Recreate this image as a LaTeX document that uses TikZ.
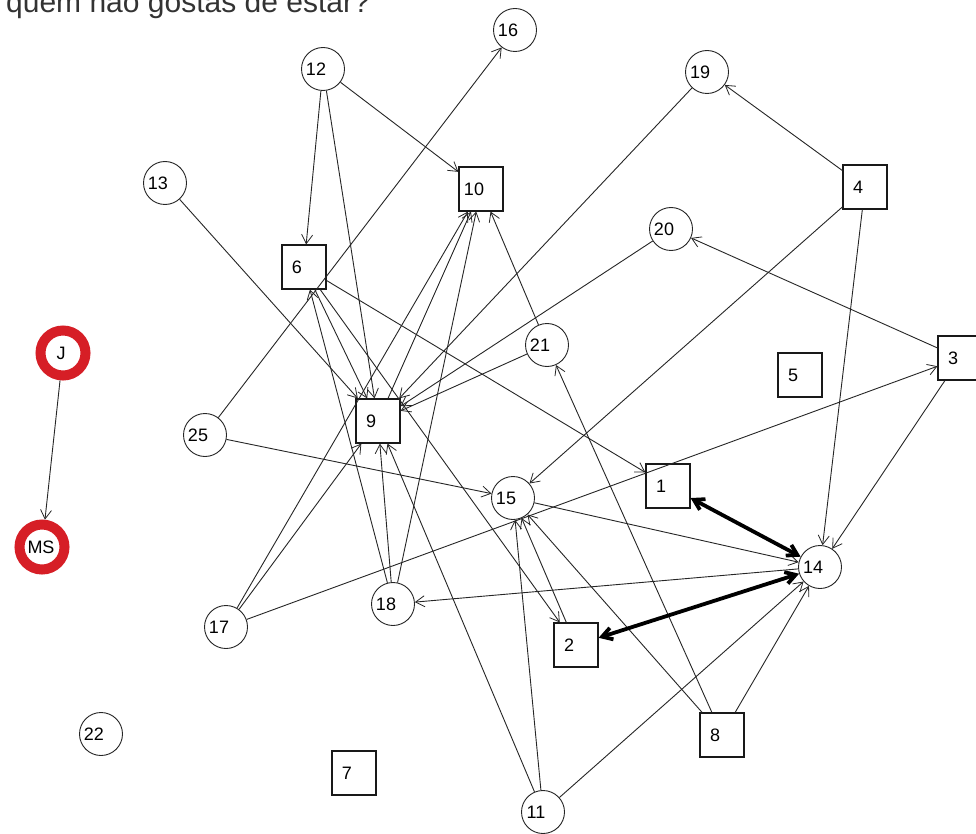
\documentclass[tikz,border=0pt]{standalone}
\usepackage{fontspec}
\setmainfont{Liberation Sans}
\usetikzlibrary{arrows.meta}
\definecolor{ringred}{RGB}{214,30,38}
\newcommand\lblfont{\fontsize{18}{18}\selectfont}
\newcommand\ttlfont{\fontsize{30}{30}\selectfont}
\tikzset{
  lbl/.style={font=\lblfont, inner sep=0pt, xshift=-7pt},
  lab/.style={label={[lbl]center:#1}},
  vcirc/.style={circle, draw=black!85, line width=0.9pt, minimum size=43pt, inner sep=0pt},
  vbox/.style={rectangle, draw=black!90, line width=1.2pt, minimum size=44pt, inner sep=0pt},
  redring/.style={circle, draw=ringred, line width=10pt, minimum size=45pt, inner sep=0pt},
  arr/.style={draw=black!85, line width=0.9pt, -{Straight Barb[length=9pt,width=11pt,line width=0.8pt]}},
  tarr/.style={draw=black, line width=3.8pt, {Straight Barb[length=10pt,width=12pt]}-{Straight Barb[length=10pt,width=12pt]}}
}
\begin{document}
\begin{tikzpicture}[x=1pt,y=-1pt]
\useasboundingbox (0,0) rectangle (976,834);
\fill[white] (0,0) rectangle (976,834);
\node[anchor=base west, font=\ttlfont, text=black!80, inner sep=0pt] (title) at (6,13) {quem não gostas de estar?};
% circles
\node[vcirc,lab=16] (n16) at (515,30) {};
\node[vcirc,lab=12] (n12) at (323,69) {};
\node[vcirc,lab=19] (n19) at (707,72) {};
\node[vcirc,lab=13] (n13) at (165,183) {};
\node[vcirc,lab=20] (n20) at (671,229) {};
\node[vcirc,lab=21] (n21) at (547,345) {};
\node[vcirc,lab=25] (n25) at (205,435) {};
\node[vcirc,lab=15] (n15) at (513,498) {};
\node[vcirc,lab=14] (n14) at (820,567) {};
\node[vcirc,lab=18] (n18) at (393,604) {};
\node[vcirc,lab=17] (n17) at (226,627) {};
\node[vcirc,lab=22] (n22) at (101,734) {};
\node[vcirc,lab=11] (n11) at (543,812) {};
% boxes
\node[vbox,lab=10] (n10) at (481,189) {};
\node[vbox,lab=4] (n4) at (865,187) {};
\node[vbox,lab=6] (n6) at (304,267) {};
\node[vbox,lab=5] (n5) at (800,375) {};
\node[vbox,lab=3] (n3) at (960,358) {};
\node[vbox,lab=9] (n9) at (378,421) {};
\node[vbox,lab=1] (n1) at (668,486) {};
\node[vbox,lab=2] (n2) at (576,645) {};
\node[vbox,lab=8] (n8) at (722,735) {};
\node[vbox,lab=7] (n7) at (354,773) {};
% red
\node[redring] (J) at (63,353) {};
\node[font=\lblfont] at (61,353) {J};
\node[redring] (MS) at (42,547) {};
\node[font=\lblfont] at (41,547) {MS};
% edges
\draw[arr] (J) -- (MS);
\draw[arr] (n12) -- (n6);
\draw[arr] (n12) -- (n9);
\draw[arr] (n12) -- (n10);
\draw[arr] (n25) -- (n16);
\draw[arr] (n13) -- (n9);
\draw[arr] (n19) -- (n9);
\draw[arr] (n20) -- (n9);
\draw[arr] (n21) -- (n9);
\draw[arr] (n21) -- (n10);
\draw[arr] (n8) -- (n21);
\draw[arr] (n4) -- (n19);
\draw[arr] (n4) -- (n15);
\draw[arr] (n4) -- (n14);
\draw[arr] (n3) -- (n20);
\draw[arr] (n3) -- (n14);
\draw[arr] (n6) -- (n9);
\draw[arr] (n6) -- (n1);
\draw[arr] (n6) -- (n2);
\draw[arr] (n9) -- (n10);
\draw[arr] (n17) -- (n10);
\draw[arr] (n17) -- (n9);
\draw[arr] (n17) -- (n3);
\draw[arr] (n18) -- (n9);
\draw[arr] (n18) -- (n6);
\draw[arr] (n18) -- (n10);
\draw[arr] (n14) -- (n18);
\draw[arr] (n25) -- (n15);
\draw[arr] (n15) -- (n14);
\draw[arr] (n2) -- (n15);
\draw[arr] (n11) -- (n9);
\draw[arr] (n11) -- (n15);
\draw[arr] (n11) -- (n14);
\draw[arr] (n8) -- (n15);
\draw[arr] (n8) -- (n14);
\draw[tarr] (n1) -- (n14);
\draw[tarr] (n2) -- (n14);
\end{tikzpicture}
\end{document}
